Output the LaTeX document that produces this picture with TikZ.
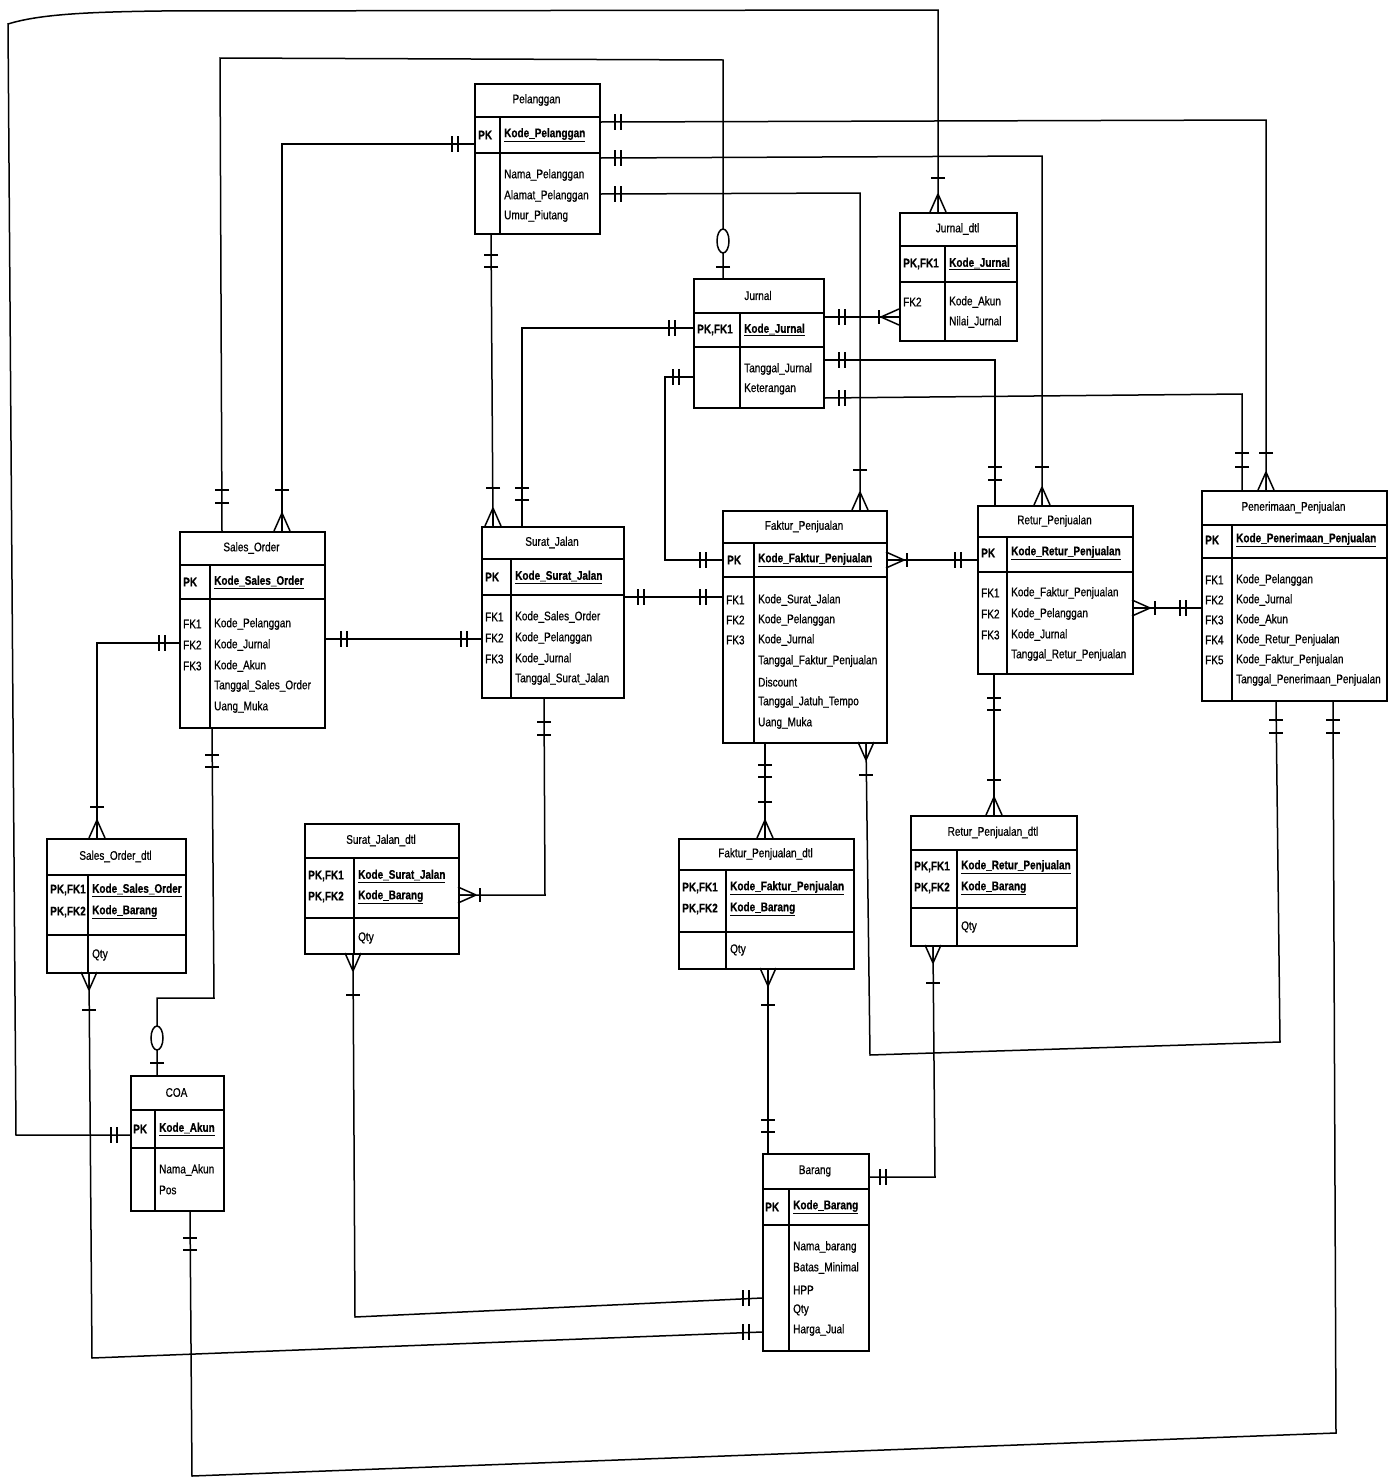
\documentclass[tikz,border=0pt]{standalone}
\usepackage{fontspec}
\newfontfamily\erfont{Liberation Sans}[FakeStretch=0.8, FakeBold=0.6]
\newcommand\erpk[1]{\textbf{\underline{#1}}}
% entity frame: name, x1, y1, x2, y2, title bottom, key bottom, column divider, title
\newcommand\erentity[9]{%
  \pgfmathsetmacro\erw{#4-#2}\pgfmathsetmacro\erh{#5-#3}%
  \node[ebox, minimum width=\erw pt, minimum height=\erh pt, anchor=north west] (#1) at (#2,#3) {};
  \draw[sep] (#2,#6) -- (#4,#6) (#2,#7) -- (#4,#7) (#8,#6) -- (#8,#5);
  \node[ttl] (#1-title) at ({(#2+#4)/2},{(#3+#6)/2}) {#9};
}
\begin{document}
\begin{tikzpicture}[x=1pt,y=-1pt,
  conn/.style={line width=1.5pt},
  ebox/.style={draw, line width=1.6pt, inner sep=0pt, rectangle, fill=white},
  sep/.style={line width=1.6pt},
  txt/.style={font=\erfont\fontsize{12.5}{14}\selectfont, inner sep=0pt, anchor=west},
  ttl/.style={font=\erfont\fontsize{12.5}{14}\selectfont, inner sep=0pt},
  one/.pic={\draw[conn] (0,-7) -- (0,7);},
  two/.pic={\draw[conn] (-3,-8) -- (-3,8) (3,-8) -- (3,8);},
  crow/.pic={\draw[conn] (0,0) -- (18,-8) (0,0) -- (18,0) (0,0) -- (18,8);},
  zero/.pic={\draw[conn, fill=white] (0,0) ellipse [x radius=12, y radius=6];}
]
\useasboundingbox (0,0) rectangle (1388,1478);

% ---------------- entities ----------------
\erentity{pel}{474}{83}{599}{233}{117}{153}{500}{Pelanggan}
\node[txt] (pel-l) at (478,135) {\textbf{PK}};
\node[txt] (pel-k) at (504,135) {\erpk{Kode\_Pelanggan}};
\node[txt] (pel-a1) at (504,175) {Nama\_Pelanggan};
\node[txt] (pel-a2) at (504,196) {Alamat\_Pelanggan};
\node[txt] (pel-a3) at (504,216) {Umur\_Piutang};

\erentity{jur}{693}{278}{823}{407}{313}{347}{740}{Jurnal}
\node[txt] (jur-l) at (697,330) {\textbf{PK,FK1}};
\node[txt] (jur-k) at (744,330) {\erpk{Kode\_Jurnal}};
\node[txt] (jur-a1) at (744,369) {Tanggal\_Jurnal};
\node[txt] (jur-a2) at (744,389) {Keterangan};

\erentity{jdt}{899}{212}{1016}{340}{246}{282}{945}{Jurnal\_dtl}
\node[txt] (jdt-l) at (903,264) {\textbf{PK,FK1}};
\node[txt] (jdt-k) at (949,264) {\erpk{Kode\_Jurnal}};
\node[txt] (jdt-l2) at (903,302) {FK2};
\node[txt] (jdt-a1) at (949,302) {Kode\_Akun};
\node[txt] (jdt-a2) at (949,322) {Nilai\_Jurnal};

\erentity{so}{179}{531}{324}{727}{565}{599}{210}{Sales\_Order}
\node[txt] (so-l) at (183,582) {\textbf{PK}};
\node[txt] (so-k) at (214,582) {\erpk{Kode\_Sales\_Order}};
\node[txt] (so-f1) at (183,624) {FK1};
\node[txt] (so-f2) at (183,645) {FK2};
\node[txt] (so-f3) at (183,666) {FK3};
\node[txt] (so-a1) at (214,624) {Kode\_Pelanggan};
\node[txt] (so-a2) at (214,645) {Kode\_Jurnal};
\node[txt] (so-a3) at (214,666) {Kode\_Akun};
\node[txt] (so-a4) at (214,686) {Tanggal\_Sales\_Order};
\node[txt] (so-a5) at (214,707) {Uang\_Muka};

\erentity{sj}{481}{526}{623}{697}{559}{595}{511}{Surat\_Jalan}
\node[txt] (sj-l) at (485,577) {\textbf{PK}};
\node[txt] (sj-k) at (515,577) {\erpk{Kode\_Surat\_Jalan}};
\node[txt] (sj-f1) at (485,617) {FK1};
\node[txt] (sj-f2) at (485,638) {FK2};
\node[txt] (sj-f3) at (485,659) {FK3};
\node[txt] (sj-a1) at (515,617) {Kode\_Sales\_Order};
\node[txt] (sj-a2) at (515,638) {Kode\_Pelanggan};
\node[txt] (sj-a3) at (515,659) {Kode\_Jurnal};
\node[txt] (sj-a4) at (515,679) {Tanggal\_Surat\_Jalan};

\erentity{fak}{722}{510}{886}{742}{543}{577}{754}{Faktur\_Penjualan}
\node[txt] (fak-l) at (727,560) {\textbf{PK}};
\node[txt] (fak-k) at (758,560) {\erpk{Kode\_Faktur\_Penjualan}};
\node[txt] (fak-f1) at (726,600) {FK1};
\node[txt] (fak-f2) at (726,620) {FK2};
\node[txt] (fak-f3) at (726,640) {FK3};
\node[txt] (fak-a1) at (758,600) {Kode\_Surat\_Jalan};
\node[txt] (fak-a2) at (758,620) {Kode\_Pelanggan};
\node[txt] (fak-a3) at (758,640) {Kode\_Jurnal};
\node[txt] (fak-a4) at (758,661) {Tanggal\_Faktur\_Penjualan};
\node[txt] (fak-a5) at (758,682) {Discount};
\node[txt] (fak-a6) at (758,702) {Tanggal\_Jatuh\_Tempo};
\node[txt] (fak-a7) at (758,723) {Uang\_Muka};

\erentity{ret}{977}{505}{1132}{673}{537}{572}{1007}{Retur\_Penjualan}
\node[txt] (ret-l) at (981,553) {\textbf{PK}};
\node[txt] (ret-k) at (1011,553) {\erpk{Kode\_Retur\_Penjualan}};
\node[txt] (ret-f1) at (981,593) {FK1};
\node[txt] (ret-f2) at (981,614) {FK2};
\node[txt] (ret-f3) at (981,635) {FK3};
\node[txt] (ret-a1) at (1011,593) {Kode\_Faktur\_Penjualan};
\node[txt] (ret-a2) at (1011,614) {Kode\_Pelanggan};
\node[txt] (ret-a3) at (1011,635) {Kode\_Jurnal};
\node[txt] (ret-a4) at (1011,655) {Tanggal\_Retur\_Penjualan};

\erentity{pen}{1201}{490}{1386}{700}{525}{558}{1232}{Penerimaan\_Penjualan}
\node[txt] (pen-l) at (1205,540) {\textbf{PK}};
\node[txt] (pen-k) at (1236,540) {\erpk{Kode\_Penerimaan\_Penjualan}};
\node[txt] (pen-f1) at (1205,580) {FK1};
\node[txt] (pen-f2) at (1205,600) {FK2};
\node[txt] (pen-f3) at (1205,620) {FK3};
\node[txt] (pen-f4) at (1205,640) {FK4};
\node[txt] (pen-f5) at (1205,660) {FK5};
\node[txt] (pen-a1) at (1236,580) {Kode\_Pelanggan};
\node[txt] (pen-a2) at (1236,600) {Kode\_Jurnal};
\node[txt] (pen-a3) at (1236,620) {Kode\_Akun};
\node[txt] (pen-a4) at (1236,640) {Kode\_Retur\_Penjualan};
\node[txt] (pen-a5) at (1236,660) {Kode\_Faktur\_Penjualan};
\node[txt] (pen-a6) at (1236,680) {Tanggal\_Penerimaan\_Penjualan};

\erentity{sod}{46}{838}{185}{972}{875}{935}{88}{Sales\_Order\_dtl}
\node[txt] (sod-l1) at (50,890) {\textbf{PK,FK1}};
\node[txt] (sod-l2) at (50,912) {\textbf{PK,FK2}};
\node[txt] (sod-k1) at (92,890) {\erpk{Kode\_Sales\_Order}};
\node[txt] (sod-k2) at (92,912) {\erpk{Kode\_Barang}};
\node[txt] (sod-a1) at (92,955) {Qty};

\erentity{sjd}{304}{823}{458}{953}{858}{918}{354}{Surat\_Jalan\_dtl}
\node[txt] (sjd-l1) at (308,876) {\textbf{PK,FK1}};
\node[txt] (sjd-l2) at (308,897) {\textbf{PK,FK2}};
\node[txt] (sjd-k1) at (358,876) {\erpk{Kode\_Surat\_Jalan}};
\node[txt] (sjd-k2) at (358,897) {\erpk{Kode\_Barang}};
\node[txt] (sjd-a1) at (358,938) {Qty};

\erentity{fdt}{678}{838}{853}{968}{870}{932}{726}{Faktur\_Penjualan\_dtl}
\node[txt] (fdt-l1) at (682,888) {\textbf{PK,FK1}};
\node[txt] (fdt-l2) at (682,909) {\textbf{PK,FK2}};
\node[txt] (fdt-k1) at (730,888) {\erpk{Kode\_Faktur\_Penjualan}};
\node[txt] (fdt-k2) at (730,909) {\erpk{Kode\_Barang}};
\node[txt] (fdt-a1) at (730,950) {Qty};

\erentity{rdt}{910}{815}{1076}{945}{850}{908}{957}{Retur\_Penjualan\_dtl}
\node[txt] (rdt-l1) at (914,867) {\textbf{PK,FK1}};
\node[txt] (rdt-l2) at (914,888) {\textbf{PK,FK2}};
\node[txt] (rdt-k1) at (961,867) {\erpk{Kode\_Retur\_Penjualan}};
\node[txt] (rdt-k2) at (961,888) {\erpk{Kode\_Barang}};
\node[txt] (rdt-a1) at (961,927) {Qty};

\erentity{coa}{130}{1075}{223}{1210}{1110}{1148}{155}{COA}
\node[txt] (coa-l) at (133,1129) {\textbf{PK}};
\node[txt] (coa-k) at (159,1129) {\erpk{Kode\_Akun}};
\node[txt] (coa-a1) at (159,1170) {Nama\_Akun};
\node[txt] (coa-a2) at (159,1190) {Pos};

\erentity{bar}{762}{1153}{868}{1350}{1189}{1225}{789}{Barang}
\node[txt] (bar-l) at (765,1207) {\textbf{PK}};
\node[txt] (bar-k) at (793,1207) {\erpk{Kode\_Barang}};
\node[txt] (bar-a1) at (793,1247) {Nama\_barang};
\node[txt] (bar-a2) at (793,1268) {Batas\_Minimal};
\node[txt] (bar-a3) at (793,1290) {HPP};
\node[txt] (bar-a4) at (793,1310) {Qty};
\node[txt] (bar-a5) at (793,1330) {Harga\_Jual};

% ---------------- relationships ----------------
% COA - Jurnal_dtl (outer frame, top and left)
\draw[conn] (coa.west |- 0,1135) -- (16,1135) -- (8,24) .. controls (40,14) and (90,12) .. (160,11) -- (938,10) -- (jdt.north -| 938,0);
\pic at (114,1135) {two};
\pic[rotate=-90] at (938,194) {crow};
\pic[rotate=-90] at (938,178) {one};

% Sales_Order - Jurnal
\draw[conn] (so.north -| 222,0) -- (220,58) -- (723,60) -- (jur.north -| 723,0);
\pic[rotate=-90] at (222,490) {one};
\pic[rotate=-90] at (222,503) {one};
\pic[rotate=-90] at (723,241) {zero};
\pic[rotate=-90] at (723,267) {one};

% Pelanggan - Sales_Order
\draw[conn] (pel.west |- 0,144) -- (282,144) -- (so.north -| 282,0);
\pic at (455,144) {two};
\pic[rotate=-90] at (282,513) {crow};
\pic[rotate=-90] at (282,490) {one};

% Pelanggan - Surat_Jalan
\draw[conn] (pel.south -| 491,0) -- (sj.north -| 493,0);
\pic[rotate=-90] at (491,255) {one};
\pic[rotate=-90] at (491,267) {one};
\pic[rotate=-90] at (493,508) {crow};
\pic[rotate=-90] at (493,488) {one};

% Pelanggan - Penerimaan_Penjualan
\draw[conn] (pel.east |- 0,122) -- (1266,120) -- (pen.north -| 1266,0);
\pic at (618,122) {two};
\pic[rotate=-90] at (1266,472) {crow};
\pic[rotate=-90] at (1266,453) {one};

% Pelanggan - Retur_Penjualan
\draw[conn] (pel.east |- 0,158) -- (1042,156) -- (ret.north -| 1042,0);
\pic at (618,158) {two};
\pic[rotate=-90] at (1042,487) {crow};
\pic[rotate=-90] at (1042,467) {one};

% Pelanggan - Faktur_Penjualan
\draw[conn] (pel.east |- 0,194) -- (860,193) -- (fak.north -| 860,0);
\pic at (618,194) {two};
\pic[rotate=-90] at (860,492) {crow};
\pic[rotate=-90] at (860,470) {one};

% Jurnal - Surat_Jalan
\draw[conn] (jur.west |- 0,328) -- (522,328) -- (sj.north -| 522,0);
\pic at (672,328) {two};
\pic[rotate=-90] at (522,488) {one};
\pic[rotate=-90] at (522,500) {one};

% Jurnal - Faktur_Penjualan
\draw[conn] (jur.west |- 0,377) -- (665,377) -- (665,560) -- (fak.west |- 0,560);
\pic at (676,377) {two};
\pic at (703,560) {two};

% Jurnal - Jurnal_dtl
\draw[conn] (jur.east |- 0,317) -- (jdt.west |- 0,317);
\pic at (842,317) {two};
\pic at (879,317) {one};
\pic at (881,317) {crow};

% Jurnal - Retur_Penjualan
\draw[conn] (jur.east |- 0,360) -- (995,360) -- (ret.north -| 995,0);
\pic at (842,360) {two};
\pic[rotate=-90] at (995,467) {one};
\pic[rotate=-90] at (995,480) {one};

% Jurnal - Penerimaan_Penjualan
\draw[conn] (jur.east |- 0,398) -- (1242,394) -- (pen.north -| 1242,0);
\pic at (842,398) {two};
\pic[rotate=-90] at (1242,453) {one};
\pic[rotate=-90] at (1242,467) {one};

% Sales_Order - Sales_Order_dtl
\draw[conn] (so.west |- 0,643) -- (97,643) -- (sod.north -| 97,0);
\pic at (162,643) {two};
\pic[rotate=-90] at (97,820) {crow};
\pic[rotate=-90] at (97,807) {one};

% Sales_Order - Surat_Jalan
\draw[conn] (so.east |- 0,639) -- (sj.west |- 0,639);
\pic at (344,639) {two};
\pic at (464,639) {two};

% Sales_Order - COA
\draw[conn] (so.south -| 212,0) -- (214,998) -- (157,998) -- (coa.north -| 157,0);
\pic[rotate=-90] at (212,755) {one};
\pic[rotate=-90] at (212,767) {one};
\pic[rotate=-90] at (157,1038) {zero};
\pic[rotate=-90] at (157,1063) {one};

% Surat_Jalan - Faktur_Penjualan
\draw[conn] (sj.east |- 0,597) -- (fak.west |- 0,597);
\pic at (641,597) {two};
\pic at (703,597) {two};

% Surat_Jalan - Surat_Jalan_dtl
\draw[conn] (sj.south -| 544,0) -- (545,895) -- (sjd.east |- 0,895);
\pic[rotate=-90] at (544,722) {one};
\pic[rotate=-90] at (544,735) {one};
\pic[rotate=180] at (476,895) {crow};
\pic at (480,895) {one};

% Faktur_Penjualan - Retur_Penjualan
\draw[conn] (fak.east |- 0,560) -- (ret.west |- 0,560);
\pic[rotate=180] at (904,560) {crow};
\pic at (907,560) {one};
\pic at (958,560) {two};

% Retur_Penjualan - Penerimaan_Penjualan
\draw[conn] (ret.east |- 0,608) -- (pen.west |- 0,608);
\pic[rotate=180] at (1150,608) {crow};
\pic at (1155,608) {one};
\pic at (1183,608) {two};

% Faktur_Penjualan - Faktur_Penjualan_dtl
\draw[conn] (fak.south -| 765,0) -- (fdt.north -| 765,0);
\pic[rotate=-90] at (765,765) {one};
\pic[rotate=-90] at (765,777) {one};
\pic[rotate=-90] at (765,802) {one};
\pic[rotate=-90] at (765,820) {crow};

% Retur_Penjualan - Retur_Penjualan_dtl
\draw[conn] (ret.south -| 994,0) -- (rdt.north -| 994,0);
\pic[rotate=-90] at (994,698) {one};
\pic[rotate=-90] at (994,710) {one};
\pic[rotate=-90] at (994,780) {one};
\pic[rotate=-90] at (994,797) {crow};

% Faktur_Penjualan - Penerimaan_Penjualan
\draw[conn] (fak.south -| 866,0) -- (870,1055) -- (1280,1042) -- (pen.south -| 1276,0);
\pic[rotate=90] at (866,760) {crow};
\pic[rotate=90] at (866,775) {one};
\pic[rotate=90] at (1276,720) {one};
\pic[rotate=90] at (1276,733) {one};

% COA - Penerimaan_Penjualan
\draw[conn] (coa.south -| 190,0) -- (192,1476) -- (1336,1433) -- (pen.south -| 1333,0);
\pic[rotate=90] at (190,1238) {one};
\pic[rotate=90] at (190,1250) {one};
\pic[rotate=90] at (1333,720) {one};
\pic[rotate=90] at (1333,733) {one};

% Faktur_Penjualan_dtl - Barang
\draw[conn] (fdt.south -| 768,0) -- (bar.north -| 768,0);
\pic[rotate=90] at (768,986) {crow};
\pic[rotate=90] at (768,1005) {one};
\pic[rotate=90] at (768,1120) {one};
\pic[rotate=90] at (768,1132) {one};

% Retur_Penjualan_dtl - Barang
\draw[conn] (rdt.south -| 933,0) -- (935,1177) -- (bar.east |- 0,1177);
\pic[rotate=90] at (933,963) {crow};
\pic[rotate=90] at (933,983) {one};
\pic at (883,1177) {two};

% Surat_Jalan_dtl - Barang
\draw[conn] (sjd.south -| 353,0) -- (355,1317) -- (bar.west |- 0,1298);
\pic[rotate=90] at (353,971) {crow};
\pic[rotate=90] at (353,995) {one};
\pic at (746,1298) {two};

% Sales_Order_dtl - Barang
\draw[conn] (sod.south -| 89,0) -- (92,1358) -- (bar.west |- 0,1332);
\pic[rotate=90] at (89,990) {crow};
\pic[rotate=90] at (89,1010) {one};
\pic at (746,1332) {two};
\end{tikzpicture}
\end{document}
